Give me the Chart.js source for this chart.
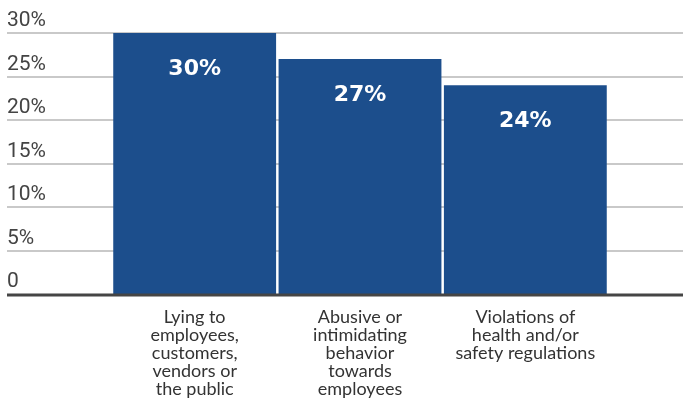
<!DOCTYPE html>
<html>
<head>
<meta charset="utf-8">
<script src="https://cdn.jsdelivr.net/npm/chart.js@4"></script>
<style>
  html, body { margin: 0; padding: 0; background: #fff; }
  #wrap { width: 683px; height: 400px; }
</style>
</head>
<body>
<div id="wrap"><canvas id="chart" width="683" height="400"></canvas></div>
<script>
// Share of respondents observing each kind of misconduct
const categories = [
  ['Lying to', 'employees,', 'customers,', 'vendors or', 'the public'],
  ['Abusive or', 'intimidating', 'behavior', 'towards', 'employees'],
  ['Violations of', 'health and/or', 'safety regulations']
];
const shares = [30, 27, 24];
const yTicks = [0, 5, 10, 15, 20, 25, 30];

const barBlue = '#1c4e8c';
const gridGray = '#c9c9c9';
const axisDark = '#454545';
const lineLeft = 7;

// Gridlines run the full width of the canvas, past the plot area
const fullGrid = {
  id: 'fullGrid',
  beforeDatasetsDraw(chart) {
    const { ctx, scales: { y } } = chart;
    ctx.save();
    ctx.strokeStyle = gridGray;
    ctx.lineWidth = 2;
    yTicks.forEach(t => {
      if (t === 0) return;
      const py = Math.round(y.getPixelForValue(t));
      ctx.beginPath();
      ctx.moveTo(lineLeft, py);
      ctx.lineTo(chart.width, py);
      ctx.stroke();
    });
    ctx.restore();
  },
  afterDatasetsDraw(chart) {
    const { ctx, scales: { y } } = chart;
    ctx.save();
    // heavy zero line
    const py0 = y.getPixelForValue(0) + 1;
    ctx.strokeStyle = axisDark;
    ctx.lineWidth = 3;
    ctx.beginPath();
    ctx.moveTo(lineLeft, py0);
    ctx.lineTo(chart.width, py0);
    ctx.stroke();

    // value labels inside the bars
    ctx.fillStyle = '#fff';
    ctx.font = "bold 22px 'DejaVu Sans', sans-serif";
    ctx.textAlign = 'center';
    ctx.textBaseline = 'middle';
    chart.getDatasetMeta(0).data.forEach((bar, i) => {
      ctx.fillText(shares[i] + '%', bar.x, bar.y + 36);
    });
    ctx.restore();
  }
};

new Chart(document.getElementById('chart'), {
  type: 'bar',
  data: {
    labels: categories,
    datasets: [{
      data: shares,
      backgroundColor: barBlue,
      borderWidth: 0,
      categoryPercentage: 1,
      barPercentage: 0.985
    }]
  },
  options: {
    responsive: false,
    animation: false,
    layout: { padding: { left: lineLeft, right: 75, top: 33, bottom: 0 } },
    plugins: {
      legend: { display: false },
      tooltip: { enabled: false }
    },
    scales: {
      x: {
        grid: { display: false },
        border: { display: false },
        ticks: {
          color: '#333',
          padding: 6,
          maxRotation: 0,
          autoSkip: false,
          font: { family: 'Lato, sans-serif', size: 18, lineHeight: 1.0 }
        },
        afterFit: (scale) => { scale.height = 106; }
      },
      y: {
        min: 0,
        max: 30,
        grid: { display: false },
        border: { display: false },
        afterBuildTicks: (scale) => { scale.ticks = yTicks.map(v => ({ value: v })); },
        ticks: {
          crossAlign: 'far',
          labelOffset: -12,
          color: '#444',
          font: { family: 'Roboto, sans-serif', size: 21 },
          callback: (v) => v === 0 ? '0' : v + '%'
        },
        afterFit: (scale) => { scale.width = 105; }
      }
    }
  },
  plugins: [fullGrid]
});
</script>
</body>
</html>
